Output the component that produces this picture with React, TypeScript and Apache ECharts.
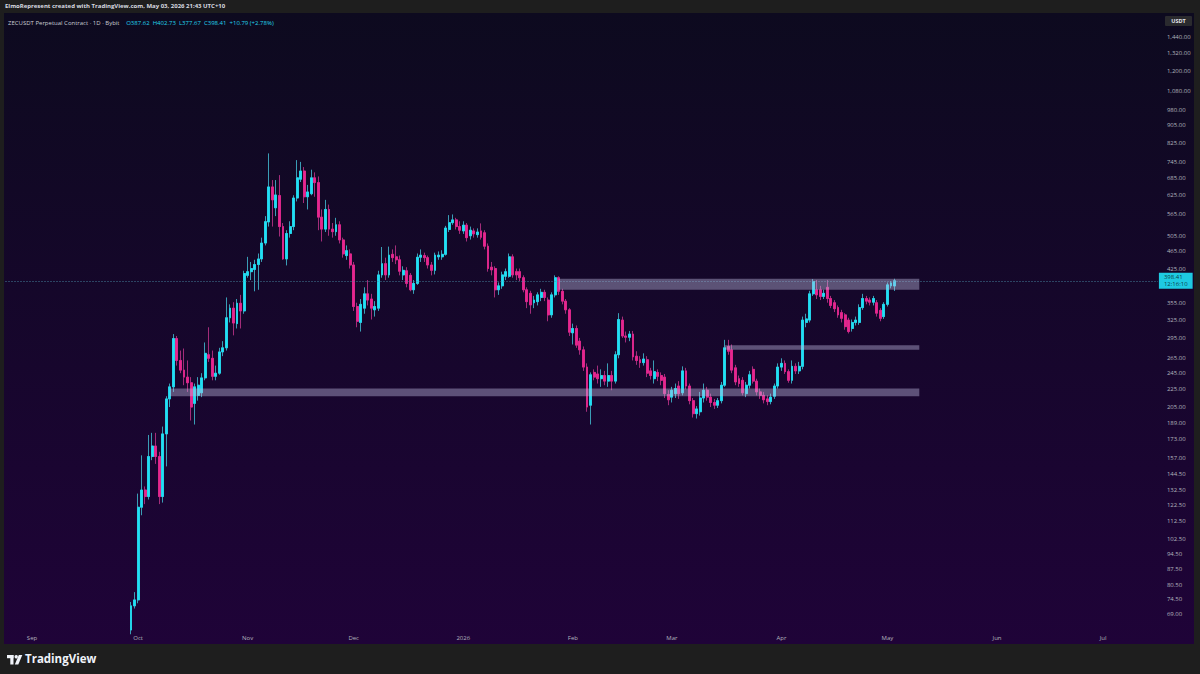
import React, { useEffect, useRef } from 'react';
import * as echarts from 'echarts';

const AXIS_START = '2025-08-25';
const AXIS_DAYS = 326;
const FIRST_CANDLE = '2025-09-29';

const opens = [
  63.4, 72, 74.3, 121, 132.5, 128, 158, 167, 158, 128,
  178, 214, 228, 294, 262, 249, 240, 233, 209, 218,
  221, 239, 270, 265, 241, 245, 274, 280, 328, 345,
  318, 354, 340, 410, 418, 423, 434, 447, 486, 543,
  653, 585, 624, 530, 447, 511, 530, 616, 680, 710,
  620, 630, 685, 668, 557, 523, 580, 523, 516, 535,
  494, 455, 459, 433, 348, 320, 345, 372, 362, 342,
  345, 411, 436, 411, 458, 452, 445, 411, 420, 410,
  380, 393, 451, 455, 450, 433, 421, 452, 452, 458,
  522, 541, 549, 530, 518, 534, 505, 518, 508, 518,
  513, 478, 428, 425, 380, 388, 408, 408, 452, 418,
  418, 405, 380, 373, 355, 357, 365, 375, 360, 333,
  370, 405, 377, 358, 342, 303, 310, 290, 277, 253,
  207, 246, 244, 238, 242, 235, 242, 235, 270, 324,
  298, 296, 301, 268, 263, 259, 263, 248, 238, 246,
  242, 240, 219, 216, 220, 229, 221, 248, 229, 212,
  198, 200, 215, 224, 216, 210, 207, 212, 230, 282,
  277, 252, 238, 236, 220, 230, 250, 235, 222, 218,
  214, 211, 217, 229, 253, 258, 247, 236, 254, 248,
  254, 320, 324, 372, 380, 380, 367, 385, 363, 355,
  346, 337, 333, 324, 310, 320, 320, 346, 363, 360,
  356, 355, 341, 330, 352, 388, 387.62,
];
const closes = [
  72, 74.3, 121, 132.5, 128, 158, 167, 158, 128, 178,
  214, 228, 294, 262, 249, 240, 233, 205, 228, 230,
  239, 272, 265, 241, 245, 274, 280, 328, 345, 319,
  354, 340, 414, 418, 425, 434, 447, 486, 544, 653,
  610, 626, 530, 447, 511, 530, 616, 685, 710, 620,
  636, 685, 668, 557, 523, 580, 523, 516, 535, 494,
  459, 467, 433, 348, 322, 352, 372, 360, 345, 348,
  411, 436, 411, 456, 450, 445, 419, 421, 393, 380,
  393, 451, 456, 450, 433, 421, 456, 456, 458, 526,
  541, 549, 530, 520, 534, 500, 520, 510, 515, 501,
  478, 425, 422, 380, 388, 411, 418, 452, 411, 411,
  405, 380, 357, 351, 360, 370, 375, 365, 333, 370,
  405, 377, 358, 342, 304, 310, 284, 277, 253, 205,
  243, 240, 238, 242, 235, 242, 235, 270, 325, 298,
  296, 301, 267, 262, 259, 264, 245, 242, 247, 241,
  236, 220, 213, 224, 226, 220, 248, 229, 212, 198,
  203, 215, 224, 216, 210, 207, 212, 230, 280, 275,
  249, 234, 232, 221, 230, 243, 235, 222, 218, 213,
  211, 216, 229, 253, 258, 247, 236, 254, 248, 254,
  324, 326, 372, 397, 370, 367, 373, 363, 350, 344,
  333, 327, 313, 305, 320, 324, 346, 363, 358, 356,
  363, 336, 327, 352, 390, 394, 398.41,
];
const lows = [
  62, 71, 73, 116, 123, 126, 155, 152, 123, 124,
  150, 205, 222, 255, 245, 230, 222, 191, 187, 212,
  216, 236, 260, 236, 236, 243, 268, 276, 320, 299,
  310, 310, 335, 405, 400, 377, 380, 440, 480, 530,
  530, 560, 503, 445, 432, 500, 520, 605, 670, 600,
  580, 625, 620, 520, 490, 515, 505, 500, 505, 485,
  450, 445, 425, 340, 312, 305, 335, 350, 325, 330,
  340, 405, 400, 405, 440, 435, 410, 400, 385, 377,
  372, 390, 440, 440, 425, 410, 412, 445, 445, 455,
  515, 535, 522, 510, 510, 490, 495, 500, 500, 495,
  470, 418, 410, 365, 370, 382, 400, 405, 405, 400,
  398, 375, 345, 335, 345, 350, 358, 358, 322, 328,
  365, 370, 352, 335, 298, 285, 280, 270, 248, 200,
  187, 236, 232, 228, 230, 228, 224, 232, 265, 295,
  288, 290, 262, 256, 252, 255, 240, 237, 232, 235,
  230, 215, 207, 210, 215, 214, 218, 225, 208, 194,
  193, 196, 210, 212, 205, 203, 204, 209, 228, 270,
  245, 230, 228, 218, 216, 226, 232, 218, 214, 209,
  207, 208, 214, 226, 248, 244, 233, 232, 244, 244,
  250, 312, 320, 368, 362, 360, 362, 355, 345, 338,
  328, 320, 308, 302, 305, 315, 316, 342, 352, 350,
  350, 330, 322, 326, 348, 383, 377.67,
];
const highs = [
  73.5, 77.4, 130, 159, 135, 177, 179, 179, 162, 185,
  217, 232, 301, 298, 276, 279, 262, 240, 232, 240,
  245, 288, 312, 276, 255, 280, 290, 365, 352, 356,
  362, 370, 420, 452, 440, 445, 460, 500, 560, 779,
  677, 677, 695, 540, 520, 545, 625, 752, 745, 725,
  660, 715, 705, 690, 580, 610, 595, 540, 555, 545,
  500, 480, 470, 440, 355, 362, 385, 400, 372, 358,
  420, 476, 450, 477, 470, 480, 455, 430, 428, 415,
  400, 460, 470, 462, 455, 440, 462, 465, 468, 532,
  563, 565, 555, 545, 545, 540, 530, 525, 525, 539,
  520, 485, 440, 430, 395, 418, 425, 460, 458, 425,
  425, 410, 385, 378, 368, 375, 382, 380, 365, 375,
  410, 408, 382, 362, 345, 318, 315, 295, 282, 258,
  246, 250, 255, 250, 248, 258, 248, 275, 336, 330,
  305, 306, 306, 275, 268, 272, 268, 252, 262, 250,
  246, 244, 224, 228, 232, 235, 254, 252, 232, 215,
  206, 222, 232, 228, 220, 214, 215, 234, 292, 292,
  285, 256, 242, 240, 234, 248, 254, 238, 226, 222,
  218, 220, 232, 258, 265, 262, 250, 262, 258, 260,
  330, 335, 378, 402, 400, 388, 380, 400, 368, 360,
  350, 342, 336, 328, 325, 330, 352, 372, 368, 365,
  368, 360, 345, 356, 395, 398, 402.73,
];

const zoneFrom = ['2026-01-28', '2026-03-16', '2025-10-10'];
const zoneTo = ['2026-05-10', '2026-05-10', '2026-05-10'];
const zoneTop = [403, 284, 226];
const zoneBottom = [380, 277, 217];

const priceTicks = [
  1440, 1320, 1200, 1080, 980, 905, 825, 745, 685, 625, 565, 505, 465, 425,
  355, 325, 295, 265, 245, 225, 205, 189, 173, 157, 144.5, 132.5, 122.5,
  112.5, 102.5, 94.5, 87.5, 80.5, 74.5, 69,
];
const monthNames = ['Jan', 'Feb', 'Mar', 'Apr', 'May', 'Jun', 'Jul', 'Aug', 'Sep', 'Oct', 'Nov', 'Dec'];

const LAST_PRICE = 398.41;
const COUNTDOWN = '12:16:10';

const UP = '#1fe0f5';
const DOWN = '#e8258e';
const UP_WICK = '#3a9db5';
const DOWN_WICK = '#a32c7a';

function buildDates(start: string, count: number): string[] {
  const out: string[] = [];
  const t0 = Date.parse(start + 'T00:00:00Z');
  for (let k = 0; k < count; k++) {
    out.push(new Date(t0 + k * 86400000).toISOString().slice(0, 10));
  }
  return out;
}

function fmtPrice(v: number): string {
  return v.toLocaleString('en-US', { minimumFractionDigits: 2, maximumFractionDigits: 2 });
}

const HIDDEN_LINE = { show: false, lineStyle: { color: 'rgba(0,0,0,0)', width: 0 } };

export default function App() {
  const ref = useRef<HTMLDivElement>(null);

  useEffect(() => {
    document.body.style.margin = '0';
    document.body.style.overflow = 'hidden';
    const chart = echarts.init(ref.current!, undefined, { renderer: 'svg' });

    const dates = buildDates(AXIS_START, AXIS_DAYS);
    const first = dates.indexOf(FIRST_CANDLE);
    const full = opens.map((o, i) => [dates[first + i], o, closes[i], lows[i], highs[i]]);
    const bodies = opens.map((o, i) => [
      dates[first + i], o, closes[i], Math.min(o, closes[i]), Math.max(o, closes[i]),
    ]);
    const zones = zoneFrom.map((f, i) => [f, zoneTo[i], zoneTop[i], zoneBottom[i]]);
    const isMonthStart = (_i: number, v: string) => v.slice(8) === '01';

    const font = '"Open Sans", Roboto, sans-serif';
    // one category = 3.535 px, grid spans from x = 5.5 to about 1158
    const gridRight = 1200 - 5.5 - AXIS_DAYS * 3.535;

    chart.setOption({
      animation: false,
      backgroundColor: '#1e1e1e',
      textStyle: { fontFamily: font },
      grid: { show: false, left: 5.5, right: gridRight, top: 13, bottom: 42, containLabel: false, borderWidth: 0 },
      xAxis: {
        type: 'category',
        data: dates,
        boundaryGap: true,
        axisLine: HIDDEN_LINE,
        axisTick: HIDDEN_LINE,
        axisLabel: {
          interval: isMonthStart,
          formatter: (v: string) => {
            const m = +v.slice(5, 7);
            return m === 1 ? v.slice(0, 4) : monthNames[m - 1];
          },
          color: '#b2b5be',
          fontSize: 6,
          margin: 3,
          fontFamily: font,
        },
        splitLine: HIDDEN_LINE,
        splitArea: { show: false },
      },
      yAxis: {
        type: 'log',
        logBase: 10,
        position: 'right',
        min: 62.75,
        max: 1631,
        axisLine: HIDDEN_LINE,
        axisTick: HIDDEN_LINE,
        splitLine: HIDDEN_LINE,
        minorTick: { show: false },
        minorSplitLine: { show: false },
        axisLabel: {
          customValues: priceTicks,
          formatter: (v: number) => fmtPrice(v),
          color: '#b2b5be',
          fontSize: 6,
          margin: 9,
          fontFamily: font,
        },
      },
      graphic: [
        {
          type: 'rect',
          z: -10,
          silent: true,
          shape: { x: 4, y: 13, width: 1190, height: 631 },
          style: {
            fill: new echarts.graphic.LinearGradient(0, 0, 0, 1, [
              { offset: 0, color: '#0d0a1f' },
              { offset: 1, color: '#1f0338' },
            ]),
          },
        },
        {
          type: 'text',
          left: 5,
          top: 3,
          style: {
            text: 'ElmoRepresent created with TradingView.com, May 03, 2026 21:43 UTC+10',
            fill: '#d8dae0',
            fontSize: 6,
            fontWeight: 'bold',
            fontFamily: font,
          },
        },
        {
          type: 'text',
          left: 8,
          top: 17,
          style: {
            text:
              '{a|ZECUSDT Perpetual Contract · 1D · Bybit}  {b|O387.62  H402.73  L377.67  C398.41  +10.79 (+2.78%)}',
            rich: {
              a: { fill: '#c9ccd4', fontSize: 6, fontFamily: font },
              b: { fill: '#22d3ee', fontSize: 6, fontFamily: font },
            },
          },
        },
        {
          type: 'rect',
          shape: { x: 1165, y: 16, width: 27, height: 10, r: 1 },
          style: { fill: '#2a2a2e' },
        },
        {
          type: 'text',
          x: 1178.5,
          y: 21,
          style: {
            text: 'USDT',
            fill: '#e0e3eb',
            fontSize: 5.5,
            fontWeight: 'bold',
            align: 'center',
            verticalAlign: 'middle',
            fontFamily: font,
          },
        },
        {
          type: 'group',
          children: [
            { type: 'rect', shape: { x: 7, y: 655, width: 6.5, height: 3.2 }, style: { fill: '#f0f3fa' } },
            { type: 'rect', shape: { x: 10.3, y: 655, width: 3.2, height: 9.5 }, style: { fill: '#f0f3fa' } },
            { type: 'circle', shape: { cx: 16.2, cy: 656.7, r: 1.7 }, style: { fill: '#f0f3fa' } },
            {
              type: 'polygon',
              shape: { points: [[18.8, 655], [22.3, 655], [18.3, 664.5], [14.8, 664.5]] },
              style: { fill: '#f0f3fa' },
            },
          ],
        },
        {
          type: 'text',
          left: 25,
          top: 652,
          style: {
            text: 'TradingView',
            fill: '#f0f3fa',
            fontSize: 11.5,
            fontWeight: 'bold',
            fontFamily: font,
          },
        },
      ],
      series: [
        {
          name: 'wicks',
          type: 'candlestick',
          data: full,
          encode: { x: 0, y: [1, 2, 3, 4] },
          barWidth: 2.4,
          z: 2,
          itemStyle: {
            color: UP_WICK,
            color0: DOWN_WICK,
            borderColor: UP_WICK,
            borderColor0: DOWN_WICK,
            borderWidth: 1,
          },
        },
        {
          name: 'bodies',
          type: 'candlestick',
          data: bodies,
          encode: { x: 0, y: [1, 2, 3, 4] },
          barWidth: 2.4,
          z: 3,
          itemStyle: {
            color: UP,
            color0: DOWN,
            borderColor: UP,
            borderColor0: DOWN,
            borderWidth: 0.6,
          },
          markLine: {
            silent: true,
            symbol: 'none',
            data: [{ yAxis: LAST_PRICE }],
            lineStyle: { type: [1, 2], color: '#4a8ea6', width: 1, opacity: 0.9 },
            label: {
              show: true,
              position: 'end',
              distance: 1,
              formatter: fmtPrice(LAST_PRICE) + '\n' + COUNTDOWN,
              backgroundColor: UP,
              color: '#0a2730',
              fontSize: 6,
              lineHeight: 7,
              padding: [1, 5, 1, 5],
              fontFamily: font,
            },
          },
        },
        {
          name: 'zones',
          type: 'custom',
          data: zones,
          encode: { x: [0, 1], y: [2, 3] },
          z: 5,
          silent: true,
          renderItem: (params: any, api: any) => {
            const p1 = api.coord([api.value(0), api.value(2)]);
            const p2 = api.coord([api.value(1), api.value(3)]);
            return {
              type: 'rect',
              shape: { x: p1[0], y: p1[1], width: p2[0] - p1[0], height: p2[1] - p1[1] },
              style: { fill: 'rgba(190,185,225,0.42)' },
            };
          },
        },
      ],
    });

    return () => chart.dispose();
  }, []);

  return <div ref={ref} style={{ width: 1200, height: 674, overflow: 'hidden' }} />;
}
